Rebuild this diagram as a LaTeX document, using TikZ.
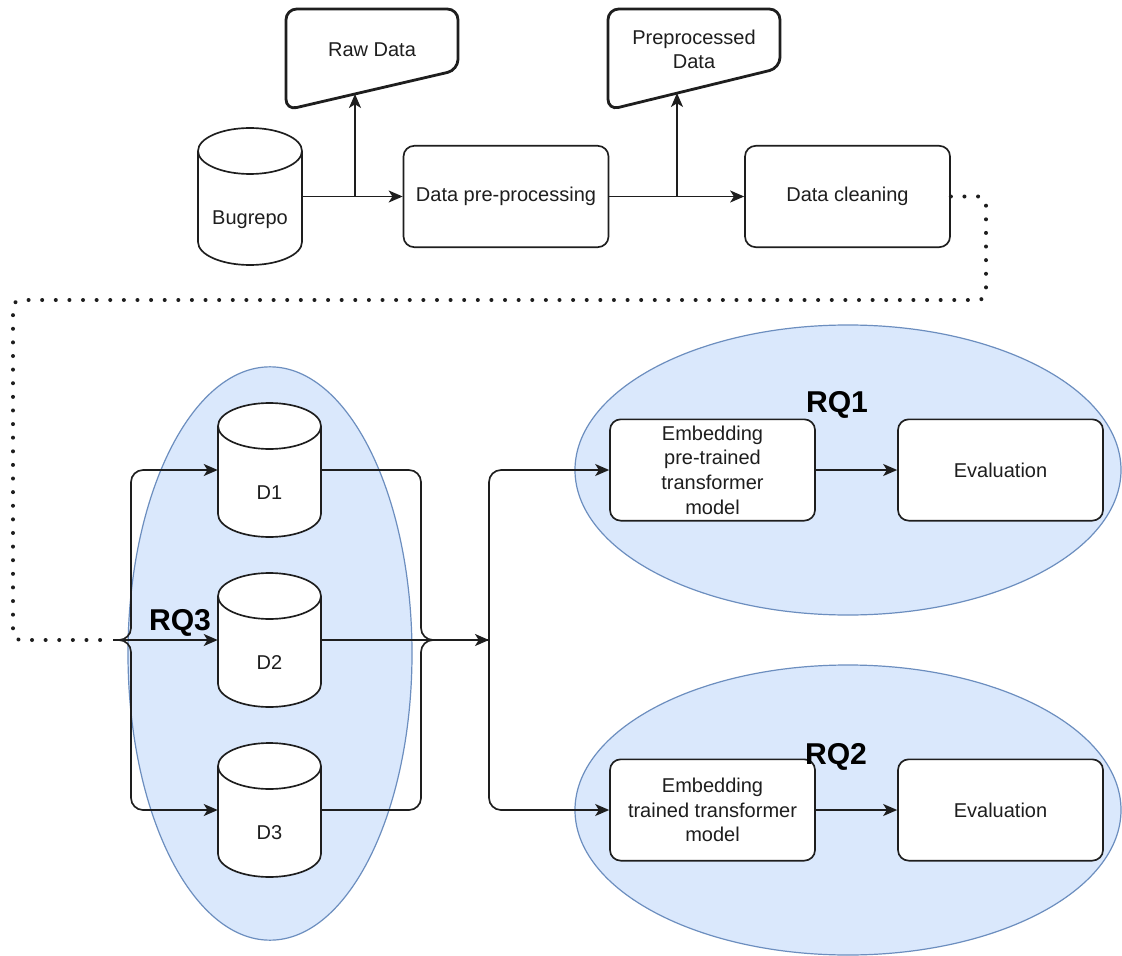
\documentclass[tikz,border=0pt]{standalone}
\usepackage{fontspec}
\setmainfont{Liberation Sans}
\usetikzlibrary{arrows.meta,shapes.geometric}

\definecolor{rqfill}{HTML}{DAE8FC}
\definecolor{rqline}{HTML}{6C8EBF}
\definecolor{ink}{HTML}{1E1E1E}

\tikzset{
  txt/.style={text=ink, font=\fontsize{15}{18.5}\selectfont, align=center, inner sep=0pt},
  stepbox/.style={txt, draw=ink, line width=1.25pt, rounded corners=8pt, fill=white,
                  minimum width=153.75pt, minimum height=76pt},
  zone/.style={ellipse, draw=rqline, line width=0.9pt, fill=rqfill, inner sep=0pt},
  rqtitle/.style={text=black, font=\bfseries\fontsize{22.6}{26}\selectfont, inner sep=0pt, anchor=base},
  conn/.style={draw=ink, line width=1.25pt, >={Stealth[length=10.5pt,width=9pt,inset=2.8pt]}},
  dotline/.style={draw=ink, line width=3pt, line cap=round, dash pattern=on 0.01pt off 10.2pt,
                  rounded corners=6pt},
  drumline/.style={draw=ink, line width=1.25pt, fill=white},
  maninput/.style={draw=ink, line width=2.1pt, rounded corners=8pt, fill=white},
}

% Database drum: name, left, right, top, bottom, label
\newcommand{\drum}[6]{%
  \pgfmathsetmacro\dcx{(#2+#3)/2}%
  \pgfmathsetmacro\drx{(#3-#2)/2}%
  \pgfmathsetmacro\dkx{0.5523*\drx}%
  \pgfmathsetmacro\dky{0.5523*23}%
  \pgfmathsetmacro\dta{#4+23}%
  \pgfmathsetmacro\dba{#5-23}%
  \pgfmathsetmacro\dlid{#4+46}%
  \pgfmathsetmacro\dmid{(#4+#5)/2}%
  \pgfmathsetmacro\dlab{(#4+46+#5)/2}%
  \pgfmathsetmacro\dw{(#3-#2)*0.75}%
  \pgfmathsetmacro\dh{(#5-#4)*0.75}%
  \path[drumline]
    (#2,\dta) -- (#2,\dba)
    .. controls (#2,\dba+\dky) and (\dcx-\dkx,#5) .. (\dcx,#5)
    .. controls (\dcx+\dkx,#5) and (#3,\dba+\dky) .. (#3,\dba)
    -- (#3,\dta)
    .. controls (#3,\dta-\dky) and (\dcx+\dkx,#4) .. (\dcx,#4)
    .. controls (\dcx-\dkx,#4) and (#2,\dta-\dky) .. (#2,\dta) -- cycle;
  \draw[drumline, fill=none] (#2,\dta)
    .. controls (#2,\dta+\dky) and (\dcx-\dkx,\dlid) .. (\dcx,\dlid)
    .. controls (\dcx+\dkx,\dlid) and (#3,\dta+\dky) .. (#3,\dta);
  \node[inner sep=0pt, minimum width=\dw pt, minimum height=\dh pt] (#1) at (\dcx,\dmid) {};
  \node[txt] (#1-label) at (\dcx,\dlab) {#6};
}

\begin{document}
\begin{tikzpicture}[x=0.75pt, y=-0.75pt]
  \fill[white] (0,0) rectangle (1122,956);
  \useasboundingbox (0,0) rectangle (1122,956);

  % research-question zones
  \node[zone, minimum width=409.5pt, minimum height=217.5pt] (rq1zone) at (848,470) {};
  \node[zone, minimum width=409.5pt, minimum height=217.5pt] (rq2zone) at (848,810) {};
  \node[zone, minimum width=213pt, minimum height=430pt] (rq3zone) at (270,653.5) {};

  % pipeline steps
  \node[stepbox] (prep)  at (506,196.5)  {Data pre-processing};
  \node[stepbox] (clean) at (847.5,196.5) {Data cleaning};
  \node[stepbox] (emb1)  at (712.5,470) {Embedding\\pre-trained\\transformer\\model};
  \node[stepbox] (eval1) at (1000.5,470) {Evaluation};
  \node[stepbox] (emb2)  at (712.5,810) {Embedding\\trained transformer\\model};
  \node[stepbox] (eval2) at (1000.5,810) {Evaluation};

  % stored data (manual input shapes, slanted bottom)
  \path[maninput] (286,9) -- (458,9) -- (458,70) -- (286,110) -- cycle;
  \node[txt] (raw) at (372,50) {Raw Data};
  \coordinate (rawin) at (355,94);
  \path[maninput] (608,9) -- (780,9) -- (780,68) -- (608,110) -- cycle;
  \node[txt] (pp) at (694,49.5) {Preprocessed\\Data};
  \coordinate (ppin) at (677,93);

  % databases
  \drum{bug}{198}{302}{128}{265}{Bugrepo}
  \drum{d1}{218}{321}{403}{537}{D1}
  \drum{d2}{218}{321}{573}{707}{D2}
  \drum{d3}{218}{321}{743}{877}{D3}

  % top pipeline connectors
  \draw[conn,->] (bug.east) -- (prep.west);
  \draw[conn,->] (bug.east -| rawin) -- (rawin);
  \draw[conn,->] (prep.east) -- (clean.west);
  \draw[conn,->] (prep.east -| ppin) -- (ppin);

  % dotted hand-over to the data sets
  \coordinate (split) at (113,640);
  \coordinate (merge) at (489,640);
  \draw[dotline] (clean.east) -- (986,196.5) -- (986,300) -- (13,300) -- (13,640) -- (split);

  % fan out to D1..D3
  \draw[conn,->] (split) -- (d2.west);
  \draw[conn,->,rounded corners=9pt] (split) -- (131,640) |- (d1.west);
  \draw[conn,->,rounded corners=9pt] (split) -- (131,640) |- (d3.west);

  % fan in from D1..D3
  \draw[conn,rounded corners=9pt] (d1.east) -| (421,640) -- (merge);
  \draw[conn,rounded corners=9pt] (d3.east) -| (421,640) -- (merge);
  \draw[conn,->] (d2.east) -- (merge);

  % to the two embedding set-ups
  \draw[conn,->,rounded corners=9pt] (merge) |- (emb1.west);
  \draw[conn,->,rounded corners=9pt] (merge) |- (emb2.west);
  \draw[conn,->] (emb1.east) -- (eval1.west);
  \draw[conn,->] (emb2.east) -- (eval2.west);

  % zone titles
  \node[rqtitle] (rq1) at (837,412) {RQ1};
  \node[rqtitle] (rq2) at (836,764) {RQ2};
  \node[rqtitle] (rq3) at (180,630) {RQ3};
\end{tikzpicture}
\end{document}
